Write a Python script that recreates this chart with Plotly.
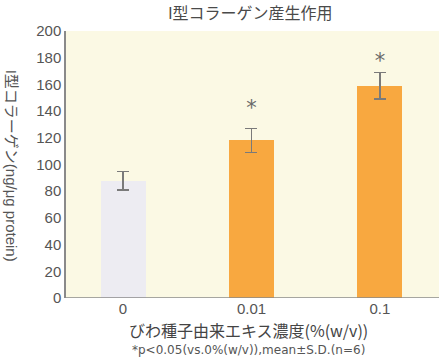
import plotly.graph_objects as go

# Type I collagen production by loquat seed extract concentration
concentrations = ["0", "0.01", "0.1"]
collagen_mean = [88, 118, 159]
collagen_sd = [7, 9, 10]
signif_marks = ["", "*", "*"]
signif_y = [None, 141, 176]
bar_colors = ["#edecf2", "#f8a840", "#f8a840"]

xpos = list(range(len(concentrations)))

fig = go.Figure()
fig.add_trace(go.Bar(
    x=xpos, y=collagen_mean, width=0.35,
    marker=dict(color=bar_colors, line=dict(width=0)),
    error_y=dict(type="data", array=collagen_sd, visible=True,
                 color="#7a7a7a", thickness=1.3, width=6),
    showlegend=False,
))
fig.add_trace(go.Scatter(
    x=xpos, y=signif_y, mode="text", text=signif_marks,
    textfont=dict(size=21, color="#6a6a6a", family="DejaVu Sans"),
    textposition="middle center", showlegend=False, cliponaxis=False,
))

font_jp = "Noto Sans CJK JP"
font_mix = "Liberation Sans, Noto Sans CJK JP"
fig.update_layout(
    width=439, height=361,
    margin=dict(l=66, r=0, t=31, b=63),
    paper_bgcolor="white",
    plot_bgcolor="#fbf9e4",
    title=dict(text="I型コラーゲン産生作用", x=0.57, xanchor="center",
               y=0.962, yanchor="middle",
               font=dict(family=font_jp, size=16, color="#4a4a4a")),
    xaxis=dict(
        tickmode="array", tickvals=xpos, ticktext=concentrations,
        range=[-0.444, 2.46], showgrid=False, zeroline=False,
        showline=False, ticks="",
        tickfont=dict(family="Liberation Sans", size=15, color="#555"),
    ),
    yaxis=dict(
        range=[0, 200], tickvals=list(range(0, 201, 20)),
        showgrid=False, zeroline=False, showline=True,
        linecolor="#8a8a8a", linewidth=1.5, ticks="",
        tickfont=dict(family="Liberation Sans", size=15, color="#555"),
    ),
    bargap=0,
)
# baseline along y=0
fig.add_shape(type="line", xref="paper", yref="y", x0=0, x1=1, y0=0, y1=0,
              line=dict(color="#8a8a8a", width=1.5))
# y-axis title, reading top to bottom
fig.add_annotation(text="I型コラーゲン(ng/μg protein)", xref="paper", yref="paper",
                   x=-0.147, y=0.495, xanchor="center", yanchor="middle",
                   textangle=90, showarrow=False,
                   font=dict(family=font_mix, size=15, color="#555"))
fig.add_annotation(text="びわ種子由来エキス濃度(%(w/v))", xref="paper", yref="paper",
                   x=0.49, y=-0.118, yanchor="middle", showarrow=False,
                   font=dict(family=font_jp, size=16, color="#444"))
fig.add_annotation(text="*p<0.05(vs.0%(w/v)),mean±S.D.(n=6)", xref="paper", yref="paper",
                   x=0.49, y=-0.195, yanchor="middle", showarrow=False,
                   font=dict(family="DejaVu Sans", size=12, color="#555"))

fig.write_html("out.html")
